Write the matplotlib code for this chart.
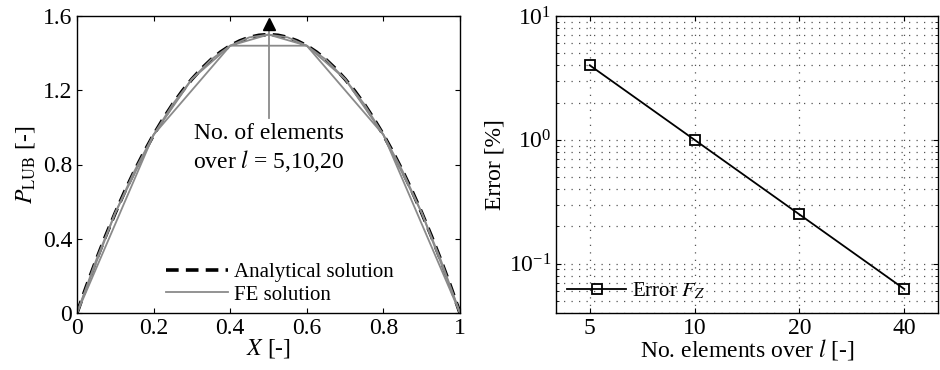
import matplotlib.pyplot as plt
import matplotlib as mpl
import numpy as np
from matplotlib.ticker import FixedLocator, NullFormatter, LogLocator

params = {
    'font.family': 'serif',
    'font.serif': ['Liberation Serif', 'DejaVu Serif'],
    'mathtext.fontset': 'stix',
    'font.size': 17,
    'xtick.labelsize': 17,
    'ytick.labelsize': 17,
    'xtick.direction': 'in',
    'ytick.direction': 'in',
    'xtick.top': True,
    'ytick.right': True,
    'axes.linewidth': 1.0,
}
mpl.rcParams.update(params)

# analytical pressure profile
x_ana = [0, 0.025, 0.05, 0.075, 0.1, 0.125, 0.15, 0.175, 0.2, 0.225, 0.25, 0.275,
         0.3, 0.325, 0.35, 0.375, 0.4, 0.425, 0.45, 0.475, 0.5, 0.525, 0.55, 0.575,
         0.6, 0.625, 0.65, 0.675, 0.7, 0.725, 0.75, 0.775, 0.8, 0.825, 0.85, 0.875,
         0.9, 0.925, 0.95, 0.975, 1.0]
p_ana = [0, 0.146, 0.285, 0.416, 0.54, 0.656, 0.765, 0.866, 0.96, 1.046, 1.125, 1.196,
         1.26, 1.316, 1.365, 1.406, 1.44, 1.466, 1.485, 1.496, 1.5, 1.496, 1.485, 1.466,
         1.44, 1.406, 1.365, 1.316, 1.26, 1.196, 1.125, 1.046, 0.96, 0.866, 0.765, 0.656,
         0.54, 0.416, 0.285, 0.146, 0]

# FE solutions
x_fe5 = [0, 0.2, 0.4, 0.6, 0.8, 1.0]
p_fe5 = [0, 0.96, 1.44, 1.44, 0.96, 0]
x_fe10 = [0, 0.1, 0.2, 0.3, 0.4, 0.5, 0.6, 0.7, 0.8, 0.9, 1.0]
p_fe10 = [0, 0.54, 0.96, 1.26, 1.44, 1.5, 1.44, 1.26, 0.96, 0.54, 0]
x_fe20 = [0, 0.05, 0.1, 0.15, 0.2, 0.25, 0.3, 0.35, 0.4, 0.45, 0.5,
          0.55, 0.6, 0.65, 0.7, 0.75, 0.8, 0.85, 0.9, 0.95, 1.0]
p_fe20 = [0, 0.285, 0.54, 0.765, 0.96, 1.125, 1.26, 1.365, 1.44, 1.485, 1.5,
          1.485, 1.44, 1.365, 1.26, 1.125, 0.96, 0.765, 0.54, 0.285, 0]

# convergence
n_elem = [5, 10, 20, 40]
err_fz = [4.0, 1.0, 0.25, 0.0625]

fig = plt.figure(figsize=[9.4, 3.7], dpi=100)
ax1 = fig.add_axes([77/940, 1-313/370, 383/940, 297/370])
ax2 = fig.add_axes([556/940, 1-313/370, 382/940, 297/370])

gray = '#8a8a8a'
ax1.plot(x_ana, p_ana, 'k--', lw=2.6, dashes=(3.5, 2), label='Analytical solution')
ax1.plot(x_fe5, p_fe5, color=gray, lw=1.3, label='FE solution')
ax1.plot(x_fe10, p_fe10, color=gray, lw=1.3)
ax1.plot(x_fe20, p_fe20, color=gray, lw=1.3)
# arrow
ax1.plot([0.5, 0.5], [1.05, 1.56], color=gray, lw=1.3, zorder=4)
ax1.plot([0.5], [1.555], marker='^', color='k', ms=9, zorder=5, clip_on=False)
ax1.text(0.5, 0.885, 'No. of elements\nover $l$ = 5,10,20', ha='center', va='center',
         fontsize=17, linespacing=1.2)
ax1.set_xlim(0, 1)
ax1.set_ylim(0, 1.6)
ax1.set_xticks([0, 0.2, 0.4, 0.6, 0.8, 1])
ax1.set_xticklabels(['0', '0.2', '0.4', '0.6', '0.8', '1'])
ax1.set_yticks([0, 0.4, 0.8, 1.2, 1.6])
ax1.set_yticklabels(['0', '0.4', '0.8', '1.2', '1.6'])
ax1.set_xlabel('$X$ [-]', labelpad=-1)
ax1.set_ylabel('$P_{\\mathrm{LUB}}$ [-]', labelpad=4)
ax1.legend(loc='lower center', bbox_to_anchor=(0.53, 0.0), frameon=False,
           fontsize=15, handlelength=3.0, handletextpad=0.3, borderaxespad=0.0,
           labelspacing=0.15)

ax2.loglog(n_elem, err_fz, 'k-', marker='s', mfc='none', mec='k', ms=7, mew=1.3,
           lw=1.3, label='Error $F_Z$')
ax2.set_xlim(4, 50)
ax2.set_ylim(0.04, 10)
ax2.xaxis.set_major_locator(FixedLocator(n_elem))
ax2.xaxis.set_minor_locator(FixedLocator([]))
ax2.set_xticklabels(['5', '10', '20', '40'])
ax2.yaxis.set_major_locator(LogLocator(base=10))
ax2.yaxis.set_minor_locator(LogLocator(base=10, subs=np.arange(2, 10)))
ax2.yaxis.set_minor_formatter(NullFormatter())
ax2.grid(True, which='major', ls=(0, (1, 5)), color='#555555', lw=0.9)
ax2.grid(True, which='minor', axis='y', ls=(0, (1, 5)), color='#555555', lw=0.9)
ax2.set_xlabel('No. elements over $l$ [-]', labelpad=-1)
ax2.set_ylabel('Error [%]', labelpad=2)
ax2.legend(loc='lower left', frameon=False, fontsize=15, handlelength=2.8,
           handletextpad=0.3, borderaxespad=0.15)

fig.savefig('out.png', dpi=100)
